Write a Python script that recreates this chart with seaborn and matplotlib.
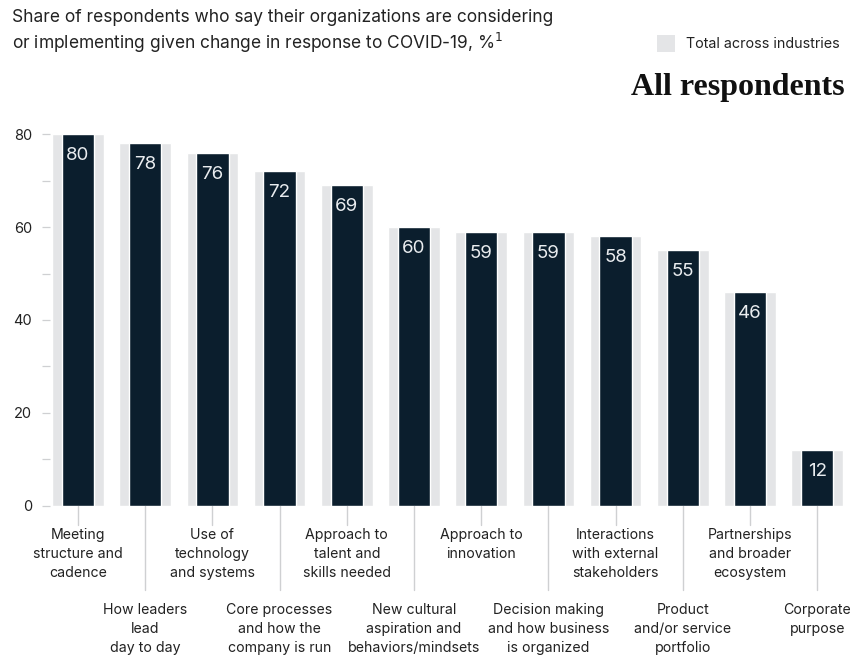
import matplotlib
matplotlib.use("Agg")
import matplotlib.pyplot as plt
import matplotlib.transforms as mtransforms
from matplotlib.patches import Rectangle
import seaborn as sns
import pandas as pd

categories = [
    "Meeting\nstructure and\ncadence",
    "How leaders\nlead\nday to day",
    "Use of\ntechnology\nand systems",
    "Core processes\nand how the\ncompany is run",
    "Approach to\ntalent and\nskills needed",
    "New cultural\naspiration and\nbehaviors/mindsets",
    "Approach to\ninnovation",
    "Decision making\nand how business\nis organized",
    "Interactions\nwith external\nstakeholders",
    "Product\nand/or service\nportfolio",
    "Partnerships\nand broader\necosystem",
    "Corporate\npurpose",
]
all_respondents = [80, 78, 76, 72, 69, 60, 59, 59, 58, 55, 46, 12]
total_industries = [80, 78, 76, 72, 69, 60, 59, 59, 58, 55, 46, 12]
y_ticks = [0, 10, 20, 30, 40, 50, 60, 70, 80]
y_ticklabels = ["0", "", "20", "", "40", "", "60", "", "80"]

title = ("Share of respondents who say their organizations are considering\n"
         "or implementing given change in response to COVID-19, %$^1$")
legend_label = "Total across industries"
panel_title = "All respondents"

NAVY = "#0b1e2d"
GREY = "#e4e5e7"
LINE = "#cfd0d2"
TEXT = "#222222"

sns.set_theme(style="white")
plt.rcParams["font.family"] = ["Inter", "DejaVu Sans"]

df = pd.DataFrame({"cat": categories, "all": all_respondents, "total": total_industries})

fig = plt.figure(figsize=(8.5, 6.56), dpi=100)
ax = fig.add_axes([50 / 850, 0.2287, (845 - 50) / 850, 0.7957 - 0.2287])

sns.barplot(data=df, x="cat", y="total", color=GREY, width=0.77, saturation=1,
            ax=ax, zorder=1)
sns.barplot(data=df, x="cat", y="all", color=NAVY, width=0.48, saturation=1,
            ax=ax, zorder=2)

ax.set_xlim(-0.417, (845 - 78) / 67.2)
ax.set_ylim(0, 80)
ax.set_xlabel("")
ax.set_ylabel("")
ax.set_xticks([])
ax.set_yticks(y_ticks)
ax.set_yticklabels(y_ticklabels, fontsize=10.5, color=TEXT)
ax.tick_params(axis="y", length=6, width=0.9, color=LINE, pad=7, left=True)
for s in ax.spines.values():
    s.set_visible(False)

# value labels
for i, v in enumerate(all_respondents):
    ax.annotate(f"{v}", xy=(i, v), xytext=(0, -15.5), textcoords="offset points",
                ha="center", va="center", color="#e9ecef", fontsize=13.5)

# category labels with connector lines
trans = mtransforms.blended_transform_factory(ax.transData, ax.transAxes)
for i, lab in enumerate(categories):
    if i % 2 == 0:
        y_end, y_text = -0.051, -0.060
    else:
        y_end, y_text = -0.226, -0.260
    ax.plot([i, i], [0, y_end], transform=trans, color=LINE, lw=1.0,
            clip_on=False, zorder=0)
    ax.text(i, y_text, lab, transform=trans, ha="center", va="top",
            fontsize=10.2, color=TEXT, linespacing=1.45)

# title
fig.text(12 / 850, 1 - 9 / 656, title, ha="left", va="top", fontsize=12.5,
         color=TEXT, linespacing=1.25)

# legend
fig.patches.append(Rectangle((657 / 850, 1 - 52 / 656), 18 / 850, 17 / 656,
                             transform=fig.transFigure, facecolor=GREY,
                             edgecolor="none"))
fig.text(686 / 850, 1 - 43.5 / 656, legend_label, ha="left", va="center",
         fontsize=10.3, color=TEXT)

# panel title
fig.text(845 / 850, 1 - 88 / 656, panel_title, ha="right", va="center",
         fontsize=23, fontweight="bold", family=["Liberation Serif"],
         color="#111111")

fig.savefig("out.png", dpi=100)
